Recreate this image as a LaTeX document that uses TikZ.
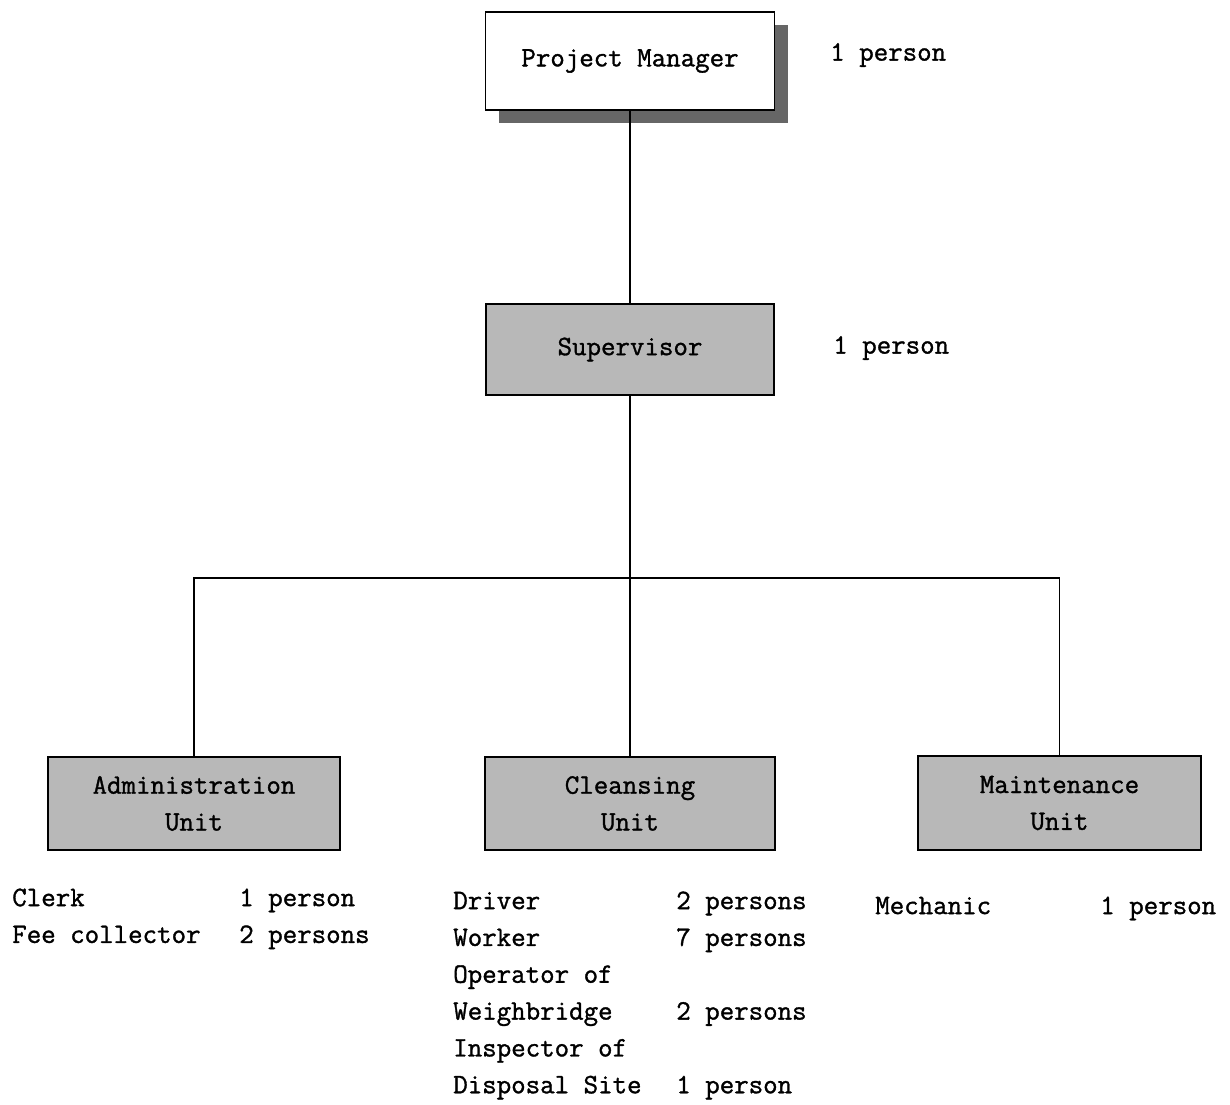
\documentclass[tikz,border=0pt]{standalone}
\usepackage{fontspec}
\newfontfamily\chartfont[FakeBold=1.2]{Latin Modern Mono}
\usetikzlibrary{positioning,shadows}

\begin{document}
\begin{tikzpicture}[
x=0.025cm, y=-0.025cm,
font=\chartfont\fontsize{20}{26.2}\selectfont,
boss/.style={draw, line width=1.2pt, fill=white, align=center, inner sep=0pt, drop shadow={shadow xshift=0.33cm, shadow yshift=-0.33cm, fill=black!60, opacity=1}},
unit/.style={draw, line width=1.2pt, fill=black!28, align=center, inner sep=0pt},
link/.style={line width=1.2pt},
count/.style={anchor=west, inner sep=0pt},
staff/.style={align=left, anchor=north west, inner sep=0pt}
]
\useasboundingbox (0,0) rectangle (1230,1105);

\node[boss, minimum width=7.225cm, minimum height=2.45cm] (pm) at (630,61) {Project Manager};
\node[count] (pmcount) at (830,55) {1 person};
\node[unit, minimum width=7.2cm, minimum height=2.275cm] (sup) at (630,349.5) {Supervisor};
\node[count] (supcount) at (833,348) {1 person};

\node[unit, minimum width=7.3cm, minimum height=2.325cm] (admin) at (194,803.5) {Administration\\Unit};
\node[unit, minimum width=7.25cm, minimum height=2.325cm] (clean) at (630,803.5) {Cleansing\\Unit};
\node[unit, minimum width=7.075cm, minimum height=2.35cm] (maint) at (1059.5,803) {Maintenance\\Unit};
\coordinate (bar) at (630,578);

% lines between the boxes
\draw[link] (pm) -- (sup);
\draw[link] (sup) -- (clean);
\draw[link] (admin) |- (bar) -| (maint);

% staff under each unit
\node[staff] (adminjobs) at (12,880) {\strut Clerk\\\strut Fee collector};
\node[staff] (adminnum) at (239,880) {\strut 1 person\\\strut 2 persons};
\node[staff] (cleanjobs) at (453,883) {\strut Driver\\\strut Worker\\\strut Operator of\\\strut Weighbridge\\\strut Inspector of\\\strut Disposal Site};
\node[staff] (cleannum) at (676,883) {\strut 2 persons\\\strut 7 persons\\\strut\\\strut 2 persons\\\strut\\\strut 1 person};
\node[staff] (maintjobs) at (875,888) {\strut Mechanic};
\node[staff] (maintnum) at (1100,888) {\strut 1 person};
\end{tikzpicture}
\end{document}
